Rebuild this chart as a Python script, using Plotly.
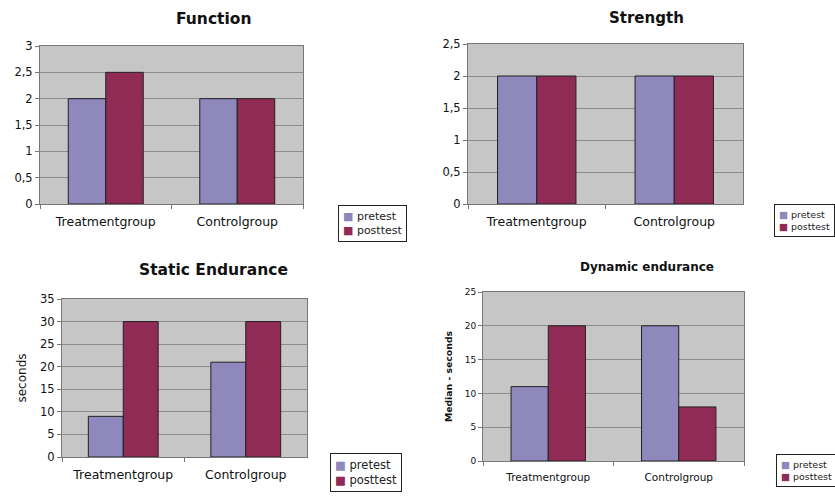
import plotly.graph_objects as go

categories = ["Treatmentgroup", "Controlgroup"]
series_names = ["pretest", "posttest"]

function_pre = [2, 2]
function_post = [2.5, 2]
strength_pre = [2, 2]
strength_post = [2, 2]
static_pre = [9, 21]
static_post = [30, 30]
dynamic_pre = [11, 20]
dynamic_post = [20, 8]

function_ticks = [0, 0.5, 1, 1.5, 2, 2.5, 3]
function_ticklabels = ["0", "0,5", "1", "1,5", "2", "2,5", "3"]
strength_ticks = [0, 0.5, 1, 1.5, 2, 2.5]
strength_ticklabels = ["0", "0,5", "1", "1,5", "2", "2,5"]
static_ticks = [0, 5, 10, 15, 20, 25, 30, 35]
dynamic_ticks = [0, 5, 10, 15, 20, 25]

titles = ["Function", "Strength", "Static Endurance", "Dynamic endurance"]

PRE = "#8e88bd"
POST = "#8f2b55"
COLORS = [PRE, POST]
BG = "#c6c6c6"
GRID = "#8c8c8c"
FONT = "DejaVu Sans, Verdana, sans-serif"
W, H = 835, 496

fig = go.Figure()

panels = [
    (function_pre, function_post, "x", "y"),
    (strength_pre, strength_post, "x2", "y2"),
    (static_pre, static_post, "x3", "y3"),
    (dynamic_pre, dynamic_post, "x4", "y4"),
]
for pre, post, xa, ya in panels:
    fig.add_trace(go.Bar(x=categories, y=pre, name=series_names[0], xaxis=xa, yaxis=ya,
                         showlegend=False,
                         marker=dict(color=PRE, line=dict(color="#222", width=1))))
    fig.add_trace(go.Bar(x=categories, y=post, name=series_names[1], xaxis=xa, yaxis=ya,
                         showlegend=False,
                         marker=dict(color=POST, line=dict(color="#222", width=1))))

def px_x(v):
    return v / W

def px_y(v):
    return 1 - v / H

# plot boxes in pixels: (left, right, top, bottom)
boxes = [(40, 303, 46, 204), (468, 743, 44, 204), (62, 307, 299, 457), (483, 744, 292, 461)]
yranges = [[0, 3], [0, 2.5], [0, 35], [0, 25]]
ytickvals = [function_ticks, strength_ticks, static_ticks, dynamic_ticks]
yticktexts = [function_ticklabels, strength_ticklabels, [str(v) for v in static_ticks], [str(v) for v in dynamic_ticks]]
tickfs = [11.5, 11.5, 11.5, 9]
xfs = [12.5, 12.5, 12.5, 10.5]
xstand = [6, 6, 6, 6]

layout = dict(
    width=W, height=H, margin=dict(l=0, r=0, t=0, b=0, autoexpand=False),
    paper_bgcolor="white", plot_bgcolor=BG,
    barmode="group", bargap=0.43, bargroupgap=0,
    font=dict(family=FONT, color="#111"),
    showlegend=False,
)
for i, (l, r, t, b) in enumerate(boxes):
    sfx = "" if i == 0 else str(i + 1)
    layout["xaxis" + sfx] = dict(
        domain=[px_x(l), px_x(r)], anchor="y" + sfx, type="category",
        showline=True, linecolor="#777", linewidth=1, mirror=True,
        ticks="outside", tickson="boundaries", ticklen=4, tickcolor="#777",
        tickfont=dict(size=xfs[i], family=FONT, color="#111"),
        ticklabelstandoff=xstand[i],
        showgrid=False, fixedrange=True,
    )
    layout["yaxis" + sfx] = dict(
        domain=[px_y(b), px_y(t)], anchor="x" + sfx, range=yranges[i],
        tickvals=ytickvals[i], ticktext=yticktexts[i],
        showline=True, linecolor="#777", linewidth=1, mirror=True,
        ticks="outside", ticklen=4, tickcolor="#777",
        showgrid=True, gridcolor=GRID, gridwidth=1,
        tickfont=dict(size=tickfs[i], family=FONT, color="#111"),
        zeroline=False, fixedrange=True,
    )
layout["yaxis3"]["title"] = dict(text="seconds", font=dict(size=12, family=FONT), standoff=10)
layout["yaxis4"]["title"] = dict(text="<b>Median - seconds</b>", font=dict(size=9.3, family=FONT), standoff=10)

fig.update_layout(**layout)

title_pos = [(213, 19, 15.5), (646, 18, 15), (213, 270, 15.5), (647, 267, 12)]
for text, (tx, ty, fs) in zip(titles, title_pos):
    fig.add_annotation(text="<b>" + text + "</b>", x=px_x(tx), y=px_y(ty), xref="paper", yref="paper",
                       xanchor="center", yanchor="middle", showarrow=False,
                       font=dict(size=fs, family=FONT, color="#111"))

# compact legend boxes (one per panel), like the reference
legend_text = "<br>".join(
    '<span style="color:%s">\u25a0</span> %s' % (c, n) for c, n in zip(COLORS, series_names)
)
legend_pos = [(338, 205, 11), (774, 204, 9.5), (330, 453, 11.5), (776, 454, 9.5)]
for lx, ly, fs in legend_pos:
    fig.add_annotation(text=legend_text, x=px_x(lx), y=px_y(ly), xref="paper", yref="paper",
                       xanchor="left", yanchor="top", align="left", showarrow=False,
                       bgcolor="white", bordercolor="#222", borderwidth=1, borderpad=4,
                       font=dict(size=fs, family=FONT, color="#222"))

fig.write_html("out.html", config={"responsive": False, "displayModeBar": False},
               post_script="document.body.style.margin='0';document.body.style.overflow='hidden';")
